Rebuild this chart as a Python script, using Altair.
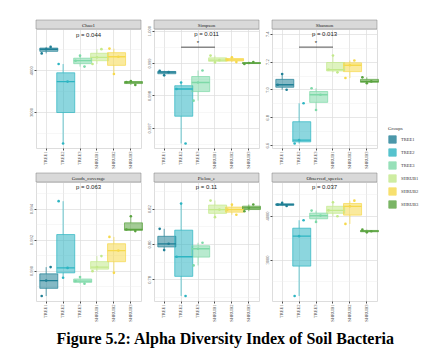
import altair as alt
import pandas as pd

groups = ["TREE1", "TREE2", "TREE3", "SHRUB1", "SHRUB2", "SHRUB3"]
colors = ["#1F7F95", "#2DB5C2", "#7ED9A8", "#C3E98B", "#F6D94C", "#5AA33F"]
metrics = ["Chao1", "Simpson", "Shannon", "Goods_coverage", "Pielou_e", "Observed_species"]

# three replicates per group, per index
chao1 = [[4405, 4505, 4560], [2245, 3730, 4150], [4088, 4230, 4350],
         [4150, 4310, 4507], [3912, 4325, 4520], [3650, 3715, 3740]]
simpson = [[0.99862, 0.99872, 0.99876], [0.99652, 0.99820, 0.99840], [0.99784, 0.99840, 0.99877],
           [0.99902, 0.99909, 0.99923], [0.99903, 0.99910, 0.99918], [0.99897, 0.99900, 0.99903]]
shannon = [[6.998, 7.034, 7.111], [6.612, 6.636, 6.901], [6.853, 6.962, 7.009],
           [7.123, 7.143, 7.244], [7.082, 7.174, 7.208], [7.045, 7.058, 7.087]]
goods = [[0.98835, 0.98935, 0.99022], [0.98953, 0.99017, 0.99448], [0.98915, 0.98932, 0.98958],
         [0.98996, 0.99022, 0.99093], [0.98985, 0.99129, 0.99217], [0.99255, 0.99265, 0.99351]]
pielou = [[0.79656, 0.80011, 0.80856], [0.77065, 0.79279, 0.82282], [0.78789, 0.79730, 0.80068],
          [0.81515, 0.81944, 0.82451], [0.81650, 0.81944, 0.82220], [0.81850, 0.82040, 0.82230]]
observed = [[4220, 4250, 4290], [2168, 3532, 3895], [3857, 4000, 4114],
            [3985, 4121, 4304], [3811, 4212, 4341], [3620, 3645, 3680]]
series = [chao1, simpson, shannon, goods, pielou, observed]

p_labels = ["p = 0.044", "p = 0.011", "p = 0.013", "p = 0.063", "p = 0.11", "p = 0.037"]
p_y = [4850, 0.99989, 7.396, 0.99540, 0.83223, 4652]
axis_lo = [2137, 0.99638, 6.580, 0.98803, 0.7678, 2055]
axis_hi = [4990, 1.00005, 7.434, 0.99572, 0.8350, 4766]

# significance brackets: metric, from group, to group, bracket value, star value
brackets = [("Simpson", "TREE2", "SHRUB1", 0.99949, 0.99962),
            ("Shannon", "TREE2", "SHRUB1", 7.304, 7.336)]

rows = []
for m, vals in zip(metrics, series):
    for g, v3 in zip(groups, vals):
        for i, v in enumerate(v3):
            rows.append(dict(metric=m, group=g, value=v, kind="pt", rep=i))
for m, lab, py, lo, hi in zip(metrics, p_labels, p_y, axis_lo, axis_hi):
    rows.append(dict(metric=m, kind="p", value=py, label=lab))
    rows.append(dict(metric=m, kind="dom", value=lo))
    rows.append(dict(metric=m, kind="dom", value=hi))
for m, g1, g2, bv, sv in brackets:
    rows.append(dict(metric=m, kind="br", group=g1, group2=g2, value=bv))
    rows.append(dict(metric=m, kind="star", group="TREE3", value=sv, label="*"))
df = pd.DataFrame(rows)

W, H = 105, 119
SERIF = "Liberation Serif"
SANS = "Liberation Sans"

MAJ = ("(datum.value > 100 ? datum.value % 1000 == 0 : "
       "datum.value > 5 ? round(datum.value*10) % 2 == 0 : "
       "datum.value < 0.9 ? round(datum.value*100) % 2 == 0 : "
       "datum.value > 0.996 ? round(datum.value*10000) % 10 == 0 : "
       "round(datum.value*10000) % 20 == 0)")
LBL = ("(datum.value > 100 ? format(datum.value, 'd') : "
       "datum.value > 5 ? format(datum.value, '.1f') : "
       "datum.value < 0.9 ? format(datum.value, '.2f') : format(datum.value, '.3f'))")

yaxis = alt.Axis(
    title=None, tickCount=7, labelExpr=f"{MAJ} ? {LBL} : ''",
    labelAngle=-90, labelFontSize=4.5, labelFont=SERIF, labelColor="#4D4D4D",
    labelOverlap=False, labelPadding=1, tickSize=2, tickColor="#4D4D4D",
    tickOpacity={"condition": {"test": MAJ, "value": 1}, "value": 0},
    gridColor={"condition": {"test": MAJ, "value": "#DCDCDC"}, "value": "#EDEDED"},
    gridWidth={"condition": {"test": MAJ, "value": 0.7}, "value": 0.45},
    domain=False,
)
yscale = alt.Scale(zero=False, nice=False)
xaxis = alt.Axis(title=None, labelAngle=-90, labelFontSize=4.5, labelFont=SERIF,
                 labelColor="#4D4D4D", grid=True, gridColor="#DCDCDC", gridWidth=0.7,
                 bandPosition=0.5, tickSize=2, tickColor="#4D4D4D", domain=False,
                 labelPadding=1)
X = alt.X("group:N", sort=groups,
          scale=alt.Scale(domain=groups, paddingInner=0, paddingOuter=0.1), axis=xaxis)
cscale = alt.Scale(domain=groups, range=colors)
legend = alt.Legend(
    title="Groups", orient="none", legendX=352, legendY=97,
    symbolType="square", symbolSize=55, symbolOpacity=0.8,
    symbolStrokeWidth=0.8, titleFontSize=5, titleFont=SERIF,
    titleFontWeight="normal", titleColor="#333333",
    labelFontSize=4.5, labelFont=SERIF, labelColor="#333333",
    rowPadding=2, titlePadding=4)
C = alt.Color("group:N", scale=cscale, sort=groups, legend=legend)

base = alt.Chart()
pts = base.transform_filter("datum.kind == 'pt'")
stats = pts.transform_aggregate(
    lo="min(value)", q1="q1(value)", med="median(value)", q3="q3(value)", hi="max(value)",
    groupby=["metric", "group"])

dom = base.transform_filter("datum.kind == 'dom'").mark_point(opacity=0).encode(
    y=alt.Y("value:Q", scale=yscale, axis=yaxis))

wlo = stats.mark_rule(strokeWidth=0.7).encode(
    x=X, y=alt.Y("lo:Q", scale=yscale, axis=yaxis), y2="q1:Q", color=C)
whi = stats.mark_rule(strokeWidth=0.7).encode(
    x=X, y=alt.Y("q3:Q", scale=yscale, axis=yaxis), y2="hi:Q", color=C)
boxfill = stats.mark_bar(width=alt.RelativeBandSize(0.75), fillOpacity=0.55).encode(
    x=X, y=alt.Y("q1:Q", scale=yscale, axis=yaxis), y2="q3:Q", color=C)
boxline = stats.mark_bar(width=alt.RelativeBandSize(0.75), filled=False, strokeWidth=0.7).encode(
    x=X, y=alt.Y("q1:Q", scale=yscale, axis=yaxis), y2="q3:Q", color=C)
med = stats.mark_bar(width=alt.RelativeBandSize(0.75), filled=False, strokeWidth=1.3).encode(
    x=X, y=alt.Y("med:Q", scale=yscale, axis=yaxis), y2="med:Q", color=C)
dots = pts.transform_calculate(
    slot=f"(datum.rep + indexof({groups}, datum.group) + indexof({metrics}, datum.metric)) % 3"
).mark_circle(size=7, opacity=1).encode(
    x=X, xOffset=alt.XOffset("slot:N", scale=alt.Scale(domain=[0, 1, 2], paddingOuter=0.9)),
    y=alt.Y("value:Q", scale=yscale, axis=yaxis), color=C)

ptext = base.transform_filter("datum.kind == 'p'").mark_text(
    font=SANS, fontSize=6, color="#222222").encode(
    x=alt.value(W / 2), y=alt.Y("value:Q", scale=yscale, axis=yaxis), text="label:N")
brk = base.transform_filter("datum.kind == 'br'").mark_rule(
    color="#222222", strokeWidth=0.8).encode(
    x=X, x2="group2:N", y=alt.Y("value:Q", scale=yscale, axis=yaxis))
star = base.transform_filter("datum.kind == 'star'").mark_text(
    fontSize=6, color="#222222").encode(
    x=X, y=alt.Y("value:Q", scale=yscale, axis=yaxis), text="label:N")

strip = base.transform_filter("datum.kind == 'p'").mark_rect(
    fill="#D9D9D9", stroke="#7F7F7F", strokeWidth=0.5).encode(
    x=alt.value(0), x2=alt.value(W), y=alt.value(-9), y2=alt.value(0))
stext = base.transform_filter("datum.kind == 'p'").mark_text(
    font=SERIF, fontSize=5, color="#1A1A1A").encode(
    x=alt.value(W / 2), y=alt.value(-4.5), text="metric:N")

layered = alt.layer(dom, wlo, whi, boxfill, boxline, med, dots, brk, star, ptext, strip, stext,
                    data=df).properties(width=W, height=H)

chart = layered.facet(
    facet=alt.Facet("metric:N", sort=metrics,
                    header=alt.Header(labels=False, labelExpr="''", labelPadding=0,
                                      labelFontSize=1, title="")),
    columns=3, spacing={"row": 2, "column": 1},
).resolve_scale(y="independent").resolve_axis(x="independent", y="independent").properties(
    title=alt.TitleParams("Figure 5.2: Alpha Diversity Index of Soil Bacteria", orient="bottom",
                          font=SERIF, fontSize=16, fontWeight="bold", color="#000000",
                          anchor="middle", offset=9, dx=2),
    padding={"left": 19, "top": 10, "right": 0, "bottom": 4},
).configure_view(stroke="#7F7F7F", strokeWidth=0.6).configure_header(
    labels=False, title=None).configure(background="white")

chart.save("out.html", embed_options={"renderer": "svg", "actions": False})
